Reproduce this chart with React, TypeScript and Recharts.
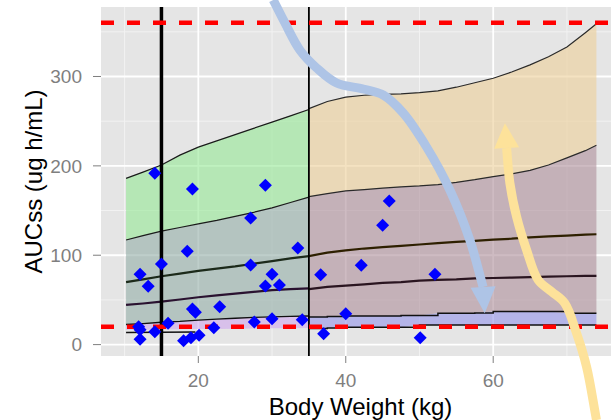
import React from "react";
import {
  ComposedChart,
  XAxis,
  YAxis,
  CartesianGrid,
  Area,
  Line,
  Scatter,
  ReferenceLine,
} from "recharts";

// simulated AUCss percentile curves, weight band 10-35 kg
const leftWt = [10.2, 12.5, 15, 17.5, 20, 22.5, 25, 27.5, 30, 32.5, 35];
const leftP95 = [186, 193, 201, 212, 221, 228, 235, 242, 249, 256, 263];
const leftP75 = [117, 122, 127, 131, 135, 139, 143.5, 148, 153, 159, 165];
const leftP50 = [70, 73, 76.5, 79.5, 82.5, 85, 87.5, 90.5, 93.5, 96.5, 99];
const leftP25 = [44.5, 46, 48, 50.5, 53, 55, 57, 59, 61, 62, 63];
const leftP10 = [22.5, 23.5, 25, 26, 27.5, 28.5, 29.5, 30.5, 31, 31.5, 32];
const leftP05 = [16.5, 16.6, 17, 17.2, 17.5, 17.6, 17.8, 18, 18.2, 18.4, 18.5];
const lowWt = [10.2, 15, 19.6];
const lowAuc = [13.5, 13.8, 14.2];

// weight band 35-74 kg
const rightWt = [35, 37.5, 40, 42.5, 45, 47.5, 50, 52.5, 55, 57.5, 60, 62.5, 65, 67.5, 70, 72.5, 74];
const rightP95 = [264, 272, 277, 279, 280, 280.5, 282, 284, 288, 293, 298, 305, 313, 322, 333, 349, 359];
const rightP75 = [165.5, 169, 172, 173.5, 175, 176.5, 177.5, 179, 181.5, 184.5, 188, 191, 195, 201, 209, 217, 223];
const rightP50 = [99, 103, 105.5, 107.5, 109, 110.5, 112, 113.5, 115, 116, 117.5, 118.5, 120, 121, 122, 123, 123.5];
const rightP25 = [62, 64.5, 66, 67.5, 69, 70, 71.5, 72.5, 73, 74, 74.5, 75, 75.5, 76, 76.5, 77, 77];
const rightP10 = [31, 31.5, 32, 32, 32, 32.5, 32.5, 35, 35, 35.5, 37, 37, 37, 37, 35, 35, 35];
const rightP05 = [18, 18.5, 19.3, 19.3, 19.3, 19.5, 22, 22, 22, 22, 22, 22, 22, 22, 22, 22, 22];

// observed patients
const obsWt = [14.1, 19.2, 29.1, 27.1, 18.5, 15.0, 12.1, 13.2, 27.1, 33.5, 30.0, 29.1, 31.0, 19.2, 19.6, 22.9, 27.6, 30.0, 34.1, 15.9, 11.9, 12.1, 14.1, 22.1, 12.1, 18.0, 19.0, 20.1, 45.9, 45.0, 36.6, 42.1, 52.1, 40.0, 37.0, 50.1];
const obsAuc = [191.7, 174.1, 178.3, 141.6, 104.4, 90.2, 78.6, 65.2, 89.0, 108.1, 78.6, 65.6, 66.7, 39.8, 36.1, 42.4, 25.3, 29.0, 27.9, 23.8, 20.0, 16.5, 14.4, 18.9, 5.9, 4.3, 7.7, 10.4, 160.7, 133.5, 78.2, 88.7, 78.6, 34.6, 12.2, 7.7];

const targetAuc = [20, 360];
const weightCuts = [15, 35];

const xTicks = [20, 40, 60];
const xMinor = [10, 30, 50, 70];
const yTicks = [0, 100, 200, 300];
const yMinor = [50, 150, 250, 350];

// annotation arrows (data units), last point is the tip
const blueArrowWt = [30.16, 31.75, 33.78, 36.05, 38.76, 42.37, 45.08, 47.79, 50.96, 54.12, 56.83, 58.63, 58.85];
const blueArrowAuc = [385.6, 359.9, 329.6, 309.5, 292.7, 286.0, 279.3, 259.1, 221.1, 173, 117, 64.5, 35.0];
const yellowArrowWt = [74.01, 72.66, 71.3, 69.72, 67.92, 66.1, 64.53, 63.17, 62.26, 61.82, 61.59];
const yellowArrowAuc = [-84.4, -24.7, 12.95, 46.2, 59.2, 72.3, 105.85, 143.1, 180.8, 220, 247.6];

const FONT = "'Liberation Sans', Arial, Helvetica, sans-serif";

// centripetal catmull-rom, avoids kinks on uneven spacing
function smoothPath(pts: number[][]) {
  const dist = (a: number[], b: number[]) => Math.hypot(b[0] - a[0], b[1] - a[1]);
  let d = `M${pts[0][0]},${pts[0][1]}`;
  for (let i = 0; i < pts.length - 1; i++) {
    const p0 = pts[Math.max(i - 1, 0)];
    const p1 = pts[i];
    const p2 = pts[i + 1];
    const p3 = pts[Math.min(i + 2, pts.length - 1)];
    const l01 = Math.sqrt(dist(p0, p1));
    const l12 = Math.sqrt(dist(p1, p2));
    const l23 = Math.sqrt(dist(p2, p3));
    let c1 = p1;
    let c2 = p2;
    if (l01 > 1e-6) {
      const a = 2 * l01 * l01 + 3 * l01 * l12 + l12 * l12;
      const n = 3 * l01 * (l01 + l12);
      c1 = [0, 1].map((k) => (p1[k] * a - p0[k] * l12 * l12 + p2[k] * l01 * l01) / n);
    } else {
      c1 = [0, 1].map((k) => p1[k] + (p2[k] - p1[k]) / 3);
    }
    if (l23 > 1e-6) {
      const b = 2 * l23 * l23 + 3 * l23 * l12 + l12 * l12;
      const m = 3 * l23 * (l23 + l12);
      c2 = [0, 1].map((k) => (p2[k] * b + p1[k] * l23 * l23 - p3[k] * l12 * l12) / m);
    } else {
      c2 = [0, 1].map((k) => p2[k] - (p2[k] - p1[k]) / 3);
    }
    d += ` C${c1[0]},${c1[1]} ${c2[0]},${c2[1]} ${p2[0]},${p2[1]}`;
  }
  return d;
}

// the reference segment gives pixel ends of first/last point; scales are linear
function arrowShape(xs: number[], ys: number[], color: string) {
  return (p: any) => {
    const n = xs.length;
    const kx = (p.x2 - p.x1) / (xs[n - 1] - xs[0]);
    const ky = (p.y2 - p.y1) / (ys[n - 1] - ys[0]);
    const pts = xs.map((x, i) => [p.x1 + (x - xs[0]) * kx, p.y1 + (ys[i] - ys[0]) * ky]);
    const base = pts[n - 2];
    const tip = pts[n - 1];
    const dx = tip[0] - base[0];
    const dy = tip[1] - base[1];
    const len = Math.hypot(dx, dy);
    const nx = -dy / len;
    const ny = dx / len;
    const hw = 12.5;
    const head = `${tip[0]},${tip[1]} ${base[0] + nx * hw},${base[1] + ny * hw} ${base[0] - nx * hw},${base[1] - ny * hw}`;
    return (
      <g>
        <path d={smoothPath(pts.slice(0, n - 1))} fill="none" stroke={color} strokeWidth={9} />
        <polygon points={head} fill={color} />
      </g>
    );
  };
}

const Diamond = (p: any) => (
  <polygon
    points={`${p.cx},${p.cy - 6.5} ${p.cx + 6.5},${p.cy} ${p.cx},${p.cy + 6.5} ${p.cx - 6.5},${p.cy}`}
    fill="#0000FF"
  />
);

export default function App() {
  const leftRows = leftWt.map((x, i) => ({
    x,
    green: [leftP75[i], leftP95[i]],
    teal: [leftP10[i], leftP75[i]],
    pink: [leftP05[i], leftP10[i]],
    p95: leftP95[i],
    p75: leftP75[i],
    p50: leftP50[i],
    p25: leftP25[i],
    p10: leftP10[i],
  }));
  const rightRows = rightWt.map((x, i) => ({
    x,
    orange: [rightP75[i], rightP95[i]],
    mauve: [rightP10[i], rightP75[i]],
    lav: [rightP05[i], rightP10[i]],
    p95: rightP95[i],
    p75: rightP75[i],
    p50: rightP50[i],
    p25: rightP25[i],
    p10: rightP10[i],
    p05: rightP05[i],
  }));
  const lowRows = lowWt.map((x, i) => ({ x, y: lowAuc[i] }));
  const obsRows = obsWt.map((x, i) => ({ x, auc: obsAuc[i] }));

  const blueSeg = [
    { x: blueArrowWt[0], y: blueArrowAuc[0] },
    { x: blueArrowWt[blueArrowWt.length - 1], y: blueArrowAuc[blueArrowAuc.length - 1] },
  ];
  const yellowSeg = [
    { x: yellowArrowWt[0], y: yellowArrowAuc[0] },
    { x: yellowArrowWt[yellowArrowWt.length - 1], y: yellowArrowAuc[yellowArrowAuc.length - 1] },
  ];

  return (
    <div
      style={{
        position: "fixed",
        left: 0,
        top: 0,
        width: 611,
        height: 420,
        overflow: "hidden",
        background: "#fff",
      }}
    >
      <ComposedChart
        width={620}
        height={420}
        margin={{ top: 7, right: 0, bottom: 0, left: 0 }}
        style={{ fontFamily: FONT }}
      >
        <CartesianGrid
          fill="#E5E5E5"
          stroke="#F2F2F2"
          strokeWidth={1}
          horizontalValues={yMinor}
          verticalValues={xMinor}
        />
        <CartesianGrid
          stroke="#FFFFFF"
          strokeWidth={1.8}
          horizontalValues={yTicks}
          verticalValues={xTicks}
        />
        <XAxis
          type="number"
          dataKey="x"
          domain={[6.8, 77.2]}
          allowDataOverflow
          ticks={xTicks}
          interval={0}
          height={64}
          axisLine={false}
          tickSize={7}
          tickMargin={11}
          tickLine={{ stroke: "#7F7F7F" }}
          tick={{ fontSize: 19, fill: "#7F7F7F" }}
          label={{
            value: "Body Weight (kg)",
            position: "insideBottom",
            offset: 5,
            style: { fontSize: 24, fill: "#000" },
          }}
        />
        <YAxis
          type="number"
          domain={[-12.75, 377.75]}
          allowDataOverflow
          ticks={yTicks}
          interval={0}
          width={101}
          axisLine={false}
          tickSize={8}
          tickMargin={11}
          tickLine={{ stroke: "#7F7F7F" }}
          tick={{ fontSize: 19, fill: "#7F7F7F" }}
          label={{
            value: "AUCss (ug h/mL)",
            angle: -90,
            position: "insideLeft",
            offset: 33,
            style: { fontSize: 24, fill: "#000", textAnchor: "middle" },
          }}
        />

        <Area data={leftRows} dataKey="green" type="linear" stroke="none" fill="rgb(149,231,149)" fillOpacity={0.6} isAnimationActive={false} />
        <Area data={leftRows} dataKey="teal" type="linear" stroke="none" fill="rgb(147,174,167)" fillOpacity={0.6} isAnimationActive={false} />
        <Area data={leftRows} dataKey="pink" type="linear" stroke="none" fill="rgb(207,167,237)" fillOpacity={0.6} isAnimationActive={false} />
        <Area data={rightRows} dataKey="orange" type="linear" stroke="none" fill="rgb(237,207,151)" fillOpacity={0.6} isAnimationActive={false} />
        <Area data={rightRows} dataKey="mauve" type="linear" stroke="none" fill="rgb(174,141,154)" fillOpacity={0.6} isAnimationActive={false} />
        <Area data={rightRows} dataKey="lav" type="linear" stroke="none" fill="rgb(147,147,234)" fillOpacity={0.6} isAnimationActive={false} />

        <Line data={leftRows} dataKey="p95" type="linear" stroke="#1A1A1A" strokeWidth={1.2} dot={false} isAnimationActive={false} />
        <Line data={leftRows} dataKey="p75" type="linear" stroke="#1A1A1A" strokeWidth={1.2} dot={false} isAnimationActive={false} />
        <Line data={leftRows} dataKey="p50" type="linear" stroke="#1C2A1A" strokeWidth={2.2} dot={false} isAnimationActive={false} />
        <Line data={leftRows} dataKey="p25" type="linear" stroke="#2A1230" strokeWidth={2.2} dot={false} isAnimationActive={false} />
        <Line data={leftRows} dataKey="p10" type="linear" stroke="#111" strokeWidth={1.3} dot={false} isAnimationActive={false} />
        <Line data={lowRows} dataKey="y" type="linear" stroke="#111" strokeWidth={1.5} dot={false} isAnimationActive={false} />
        <Line data={rightRows} dataKey="p95" type="linear" stroke="#2A2A2A" strokeWidth={1.2} dot={false} isAnimationActive={false} />
        <Line data={rightRows} dataKey="p75" type="linear" stroke="#2A2A2A" strokeWidth={1.2} dot={false} isAnimationActive={false} />
        <Line data={rightRows} dataKey="p50" type="linear" stroke="#2E2000" strokeWidth={2.2} dot={false} isAnimationActive={false} />
        <Line data={rightRows} dataKey="p25" type="linear" stroke="#2A1520" strokeWidth={2.2} dot={false} isAnimationActive={false} />
        <Line data={rightRows} dataKey="p10" type="stepAfter" stroke="#111" strokeWidth={1.5} dot={false} isAnimationActive={false} />
        <Line data={rightRows} dataKey="p05" type="stepAfter" stroke="#111" strokeWidth={1.5} dot={false} isAnimationActive={false} />

        <ReferenceLine x={weightCuts[0]} stroke="#000" strokeWidth={3.5} zIndex={450} />
        <ReferenceLine x={weightCuts[1]} stroke="#000" strokeWidth={1.8} zIndex={450} />
        {targetAuc.map((t) => (
          <ReferenceLine key={t} y={t} stroke="#FF0000" strokeWidth={4.5} strokeDasharray="13 13" zIndex={460} />
        ))}

        <Scatter data={obsRows} dataKey="auc" shape={Diamond} isAnimationActive={false} zIndex={600} />

        <ReferenceLine
          segment={blueSeg}
          ifOverflow="visible"
          zIndex={800}
          shape={arrowShape(blueArrowWt, blueArrowAuc, "#AEC4E6")}
        />
        <ReferenceLine
          segment={yellowSeg}
          ifOverflow="visible"
          zIndex={800}
          shape={arrowShape(yellowArrowWt, yellowArrowAuc, "#FDE29A")}
        />
      </ComposedChart>
    </div>
  );
}
